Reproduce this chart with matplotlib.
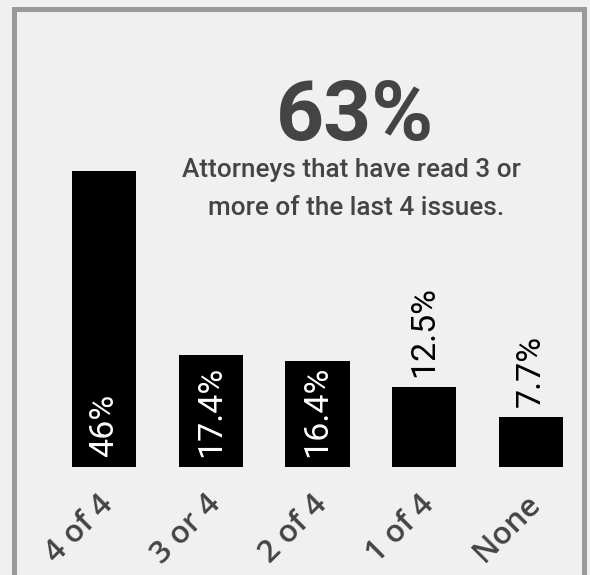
import matplotlib
matplotlib.use("Agg")
import matplotlib.pyplot as plt
from matplotlib.lines import Line2D
from matplotlib.transforms import offset_copy

categories = ["4 of 4", "3 or 4", "2 of 4", "1 of 4", "None"]
values = [46, 17.4, 16.4, 12.5, 7.7]
value_labels = ["46%", "17.4%", "16.4%", "12.5%", "7.7%"]
headline = "63%"
subtitle_lines = ["Attorneys that have read 3 or", "more of the last 4 issues."]

W, H = 590, 575
BG = "#f0f0f0"
TXT = "#444444"

fig = plt.figure(figsize=(W / 100, H / 100), dpi=100, facecolor=BG)

def fx(px):
    return px / W

def fy(py):
    return 1 - py / H

# axes: baseline at y=467, top (value 46) at y=171
ax = fig.add_axes([fx(50.6), fy(467), fx(533.8), 296 / H])
ax.set_facecolor("none")
x = list(range(len(categories)))
ax.bar(x, values, width=0.6, color="black")
ax.set_xlim(-0.5, 4.5)
ax.set_ylim(0, 46)
for s in ax.spines.values():
    s.set_visible(False)
ax.set_xticks([])
ax.set_yticks([])

# value labels
for xi, v, lab in zip(x, values, value_labels):
    tr = offset_copy(ax.transData, fig=fig, x=0, y=10, units="dots")
    if v >= 15:
        ax.text(xi, 0, lab, transform=tr, rotation=90, ha="center", va="bottom",
                color="white", fontsize=24.5, family="Roboto", clip_on=False)
    else:
        ax.text(xi, v, lab, transform=tr, rotation=90, ha="center", va="bottom",
                color="black", fontsize=24.5, family="Roboto", clip_on=False)

# category labels
for xi, c in zip(x, categories):
    tr = offset_copy(ax.transData, fig=fig, x=5, y=-33, units="dots")
    ax.text(xi, 0, c, transform=tr, rotation=45, rotation_mode="anchor",
            ha="right", va="center", color=TXT, fontsize=22.5,
            family="Open Sans", fontweight="semibold", clip_on=False)

# headline and subtitle
fig.text(fx(355), fy(140), headline, ha="center", va="baseline",
         fontsize=60.5, fontweight="bold", color=TXT, family="Roboto")
fig.text(fx(351.5), fy(177), subtitle_lines[0], ha="center", va="baseline",
         fontsize=18.8, color=TXT, family="Roboto", fontweight="medium")
fig.text(fx(356.5), fy(215), subtitle_lines[1], ha="center", va="baseline",
         fontsize=18.8, color=TXT, family="Roboto", fontweight="medium")

# frame (open at bottom)
lw = 5 * 72 / 100
frame = Line2D([fx(13.5), fx(13.5), fx(584.2), fx(584.2)],
               [fy(600), fy(8.5), fy(8.5), fy(600)],
               transform=fig.transFigure, color="#9a9a9a", linewidth=lw,
               solid_joinstyle="miter")
fig.add_artist(frame)

fig.savefig("out.png", dpi=100, facecolor=BG)
